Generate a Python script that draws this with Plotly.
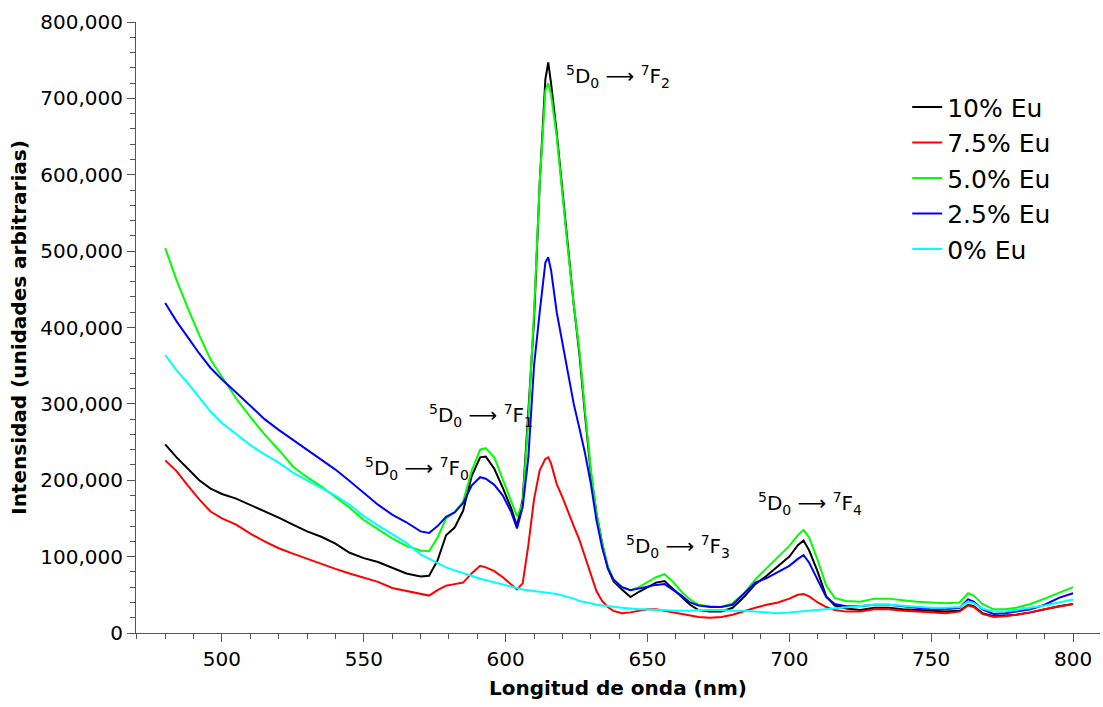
import plotly.graph_objects as go

# Emission wavelength grid (nm)
wavelength = [
    480, 484, 488, 492, 496, 500, 505, 510, 515, 520, 525, 530, 535, 540, 545,
    550, 555, 560, 565, 570, 573, 576, 579, 582, 585, 588, 591, 593, 596, 599,
    602, 604, 606, 608, 610, 612, 614, 615, 616, 618, 620, 622, 624, 626, 628,
    630, 632, 634, 636, 638, 641, 644, 647, 650, 653, 656, 659, 662, 665, 668,
    672, 676, 680, 684, 688, 692, 696, 700, 703, 705, 707, 710, 713, 716, 720,
    725, 730, 735, 740, 745, 750, 755, 760, 763, 765, 768, 772, 776, 780, 785,
    790, 795, 800,
]

# Intensities in thousands of arbitrary units
eu_10 = [
    247, 230, 215, 200, 189, 182, 176, 168, 159, 151, 142, 133, 126, 117, 105,
    98, 93, 86, 78, 74, 75, 95, 128, 138, 160, 205, 230, 231, 215, 190,
    163, 140, 175, 290, 410, 589, 725, 747, 720, 655, 575, 505, 430, 365, 285,
    210, 157, 118, 85, 68, 57, 47, 54, 60, 66, 68, 58, 47, 37, 30,
    28, 28, 33, 47, 64, 75, 88, 100, 115, 121, 108, 80, 48, 36, 32,
    30, 33, 33, 31, 30, 29, 28, 29, 37, 35, 26, 22, 23, 24, 27,
    31, 35, 38,
]
eu_75 = [
    226, 212, 193, 175, 159, 150, 142, 130, 120, 111, 104, 97, 90, 84, 78,
    73, 67, 59, 55, 51, 49, 56, 62, 64, 66, 78, 88, 86, 81, 73,
    64, 57, 65, 115, 175, 213, 228, 230, 222, 195, 178, 158, 140, 122, 100,
    76, 55, 42, 34, 29, 26, 27, 29, 31, 31, 29, 27, 25, 23, 21,
    20, 21, 24, 29, 33, 37, 40, 45, 50, 51, 48, 40, 34, 30, 28,
    28, 31, 31, 29, 28, 27, 26, 28, 36, 34, 25, 21, 22, 24, 27,
    31, 35, 38,
]
eu_50 = [
    504, 462, 425, 390, 358, 335, 307, 283, 260, 240, 218, 204, 192, 178, 164,
    148, 136, 124, 114, 108, 107, 125, 150, 158, 172, 212, 240, 242, 230, 200,
    172, 153, 170, 280, 420, 589, 710, 720, 705, 650, 570, 500, 430, 370, 290,
    215, 157, 118, 88, 70, 60, 56, 60, 66, 73, 77, 67, 54, 44, 37,
    35, 34, 39, 52, 70, 85, 100, 114, 128, 135, 125, 95, 62, 46, 42,
    41, 45, 45, 43, 41, 40, 39, 40, 52, 49, 38, 31, 31, 33, 38,
    45, 53, 60,
]
eu_25 = [
    432, 408, 387, 366, 347, 332, 315, 297, 280, 266, 253, 240, 226, 214, 199,
    183, 168, 155, 145, 133, 131, 140, 152, 158, 170, 193, 204, 202, 194, 180,
    158, 137, 165, 230, 350, 420, 485, 492, 475, 420, 380, 340, 300, 268, 235,
    196, 148, 112, 85, 70, 60, 56, 58, 61, 63, 64, 57, 49, 40, 36,
    34, 34, 37, 52, 66, 72, 80, 88, 97, 102, 92, 70, 47, 38, 35,
    35, 37, 37, 35, 33, 31, 31, 33, 44, 41, 31, 25, 26, 28, 31,
    37, 46, 52,
]
eu_0 = [
    364, 344, 327, 308, 290, 275, 260, 246, 234, 223, 210, 200, 190, 180, 168,
    153, 141, 129, 118, 103, 97, 91, 86, 82, 79, 75, 71, 69, 66, 63,
    60, 58, 57, 56, 55, 54, 53, 53, 52, 51, 49, 47, 45, 42, 41,
    39, 37, 36, 35, 34, 33, 32, 31, 31, 30, 30, 29, 29, 29, 30,
    30, 30, 29, 29, 28, 27, 26, 27, 28, 29, 30, 31, 32, 33, 34,
    36, 37, 37, 36, 34, 33, 33, 34, 41, 39, 32, 28, 28, 30, 33,
    36, 40, 44,
]

series_names = ["10% Eu", "7.5% Eu", "5.0% Eu", "2.5% Eu", "0% Eu"]
series_values = [eu_10, eu_75, eu_50, eu_25, eu_0]
series_colors = ["#000000", "#ff0000", "#00ff00", "#0000ff", "#00ffff"]

# Transition labels: (text, wavelength nm, intensity)
transitions = [
    ("<sup>5</sup>D<sub>0</sub> ⟶ <sup>7</sup>F<sub>0</sub>", 568.7, 216000),
    ("<sup>5</sup>D<sub>0</sub> ⟶ <sup>7</sup>F<sub>1</sub>", 591.3, 285000),
    ("<sup>5</sup>D<sub>0</sub> ⟶ <sup>7</sup>F<sub>2</sub>", 639.6, 728000),
    ("<sup>5</sup>D<sub>0</sub> ⟶ <sup>7</sup>F<sub>3</sub>", 660.7, 113000),
    ("<sup>5</sup>D<sub>0</sub> ⟶ <sup>7</sup>F<sub>4</sub>", 707.3, 170000),
]

FONT = "DejaVu Sans"

fig = go.Figure()
for name, vals, color in zip(series_names, series_values, series_colors):
    fig.add_trace(go.Scatter(
        x=wavelength,
        y=[v * 1000 for v in vals],
        mode="lines",
        name=name,
        line=dict(color=color, width=2),
    ))

for text, xv, yv in transitions:
    fig.add_annotation(
        x=xv, y=yv, xref="x", yref="y", text=text, showarrow=False,
        font=dict(family=FONT, size=20, color="#000000"),
    )

axis_common = dict(
    showline=True, linecolor="#555555", linewidth=1,
    ticks="outside", tickcolor="#555555", ticklen=8, tickwidth=1,
    showgrid=False, zeroline=False,
    tickfont=dict(family=FONT, size=20, color="#000000"),
)

fig.update_xaxes(
    range=[469.7, 809.5], dtick=50, tick0=500,
    minor=dict(dtick=10, ticks="outside", ticklen=5, tickcolor="#555555"),
    title=dict(text="<b>Longitud de onda (nm)</b>",
               font=dict(family=FONT, size=20, color="#000000"), standoff=10),
    **axis_common,
)
fig.update_yaxes(
    range=[0, 800000], dtick=100000, tickformat=",d",
    minor=dict(dtick=20000, ticks="outside", ticklen=5, tickcolor="#555555"),
    title=dict(text="<b>Intensidad (unidades arbitrarias)</b>",
               font=dict(family=FONT, size=20, color="#000000"), standoff=8),
    **axis_common,
)

fig.update_layout(
    width=1103, height=707,
    margin=dict(l=136, r=3, t=22, b=74),
    paper_bgcolor="#ffffff", plot_bgcolor="#ffffff",
    showlegend=True,
    legend=dict(
        x=0.80, y=0.898, xanchor="left", yanchor="top",
        font=dict(family=FONT, size=25, color="#000000"),
        bgcolor="rgba(255,255,255,0)", itemwidth=30, tracegroupgap=0,
    ),
)

fig.write_html("out.html", include_plotlyjs=True, config={"displayModeBar": False})
